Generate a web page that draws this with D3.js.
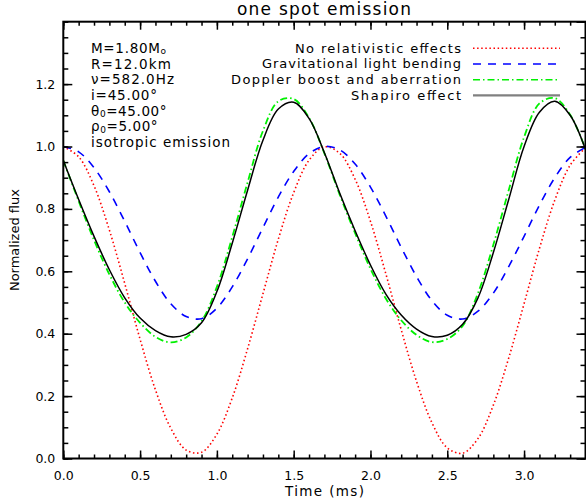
<!DOCTYPE html>
<html>
<head>
<meta charset="utf-8">
<script src="https://cdn.jsdelivr.net/npm/d3@7"></script>
<style>
body{margin:0;background:#fff;}
text{font-family:"DejaVu Sans",sans-serif;fill:#000;}
</style>
</head>
<body>
<svg id="chart" width="586" height="502"></svg>
<script>
// time grid (ms) and the four light curves
var time = [0,0.1,0.2,0.3,0.4,0.5,0.6,0.7,0.8,0.9,1.0,1.1,1.2,1.3,1.4,1.5,1.6,1.7,1.8,1.9,2.0,2.1,2.2,2.3,2.4,2.5,2.6,2.7,2.8,2.9,3.0,3.1,3.2,3.3,3.4];
var noRel = [1.000,0.967,0.874,0.732,0.561,0.382,0.220,0.097,0.027,0.020,0.078,0.194,0.352,0.528,0.703,0.852,0.956,0.999,0.978,0.895,0.760,0.592,0.413,0.247,0.115,0.034,0.017,0.064,0.171,0.322,0.496,0.673,0.828,0.940,0.996];
var lightBend = [1.000,0.983,0.932,0.855,0.760,0.660,0.568,0.496,0.455,0.448,0.482,0.550,0.640,0.740,0.838,0.920,0.977,1.000,0.989,0.944,0.870,0.777,0.677,0.583,0.506,0.459,0.447,0.472,0.530,0.615,0.712,0.812,0.900,0.965,0.997];
var doppler = [0.955,0.825,0.700,0.590,0.500,0.435,0.390,0.372,0.388,0.440,0.550,0.710,0.885,1.050,1.145,1.152,1.092,0.978,0.845,0.722,0.608,0.513,0.443,0.396,0.373,0.383,0.425,0.530,0.685,0.860,1.030,1.138,1.155,1.102,0.992];
var shapiro = [0.955,0.830,0.712,0.605,0.515,0.450,0.410,0.390,0.398,0.435,0.535,0.690,0.860,1.020,1.120,1.142,1.090,0.980,0.850,0.730,0.620,0.527,0.460,0.415,0.391,0.395,0.430,0.515,0.660,0.830,1.000,1.110,1.145,1.100,0.990];

var seriesNames = ["No relativistic effects","Gravitational light bending","Doppler boost and aberration","Shapiro effect"];
var xTicks = [0,0.5,1.0,1.5,2.0,2.5,3.0];
var yTicks = [0,0.2,0.4,0.6,0.8,1.0,1.2];

var svg = d3.select("#chart"),
    margin = {top: 21.7, left: 63.3, bottom: 43.5, right: 0.5},
    width = 586,
    height = 502;

var x = d3.scaleLinear().domain([0, 3.4]).range([margin.left, width - margin.right]);
var y = d3.scaleLinear().domain([0, 1.4]).range([height - margin.bottom, margin.top]);

var styles = [
    {color: "#ff0000", dash: "1.5,2.6", w: 1.6, legendColor: "#ff0000", lw: 1.6},
    {color: "#0000ff", dash: "8,7", w: 1.6, legendColor: "#0000ff", lw: 1.6},
    {color: "#00f000", dash: "7,3,1.5,3", w: 1.8, legendColor: "#00f000", lw: 1.6},
    {color: "#000000", dash: null, w: 1.5, legendColor: "#808080", lw: 2.2}
];
var curves = [noRel, lightBend, doppler, shapiro];
var legendWidths = [166, 199, 230, 110];

svg.append("clipPath").attr("id", "plotclip")
    .append("rect")
    .attr("x", x(0)).attr("y", y(1.4))
    .attr("width", x(3.4) - x(0)).attr("height", y(0) - y(1.4));

var line = d3.line()
    .x(d => x(d[0]))
    .y(d => y(d[1]))
    .curve(d3.curveCatmullRom.alpha(0.5));

var plot = svg.append("g").attr("clip-path", "url(#plotclip)");
for (var k = 0; k < curves.length; k++) {
    var pts = time.map((t, i) => [t, curves[k][i]]);
    plot.append("path")
        .attr("d", line(pts))
        .attr("fill", "none")
        .attr("stroke", styles[k].color)
        .attr("stroke-width", styles[k].w)
        .attr("stroke-dasharray", styles[k].dash);
}

// axes: major + minor ticks on all four sides, pointing inward
var xMinor = x.ticks(34), yMinor = y.ticks(28);

function styleAxis(g) {
    g.select(".domain").remove();
    g.selectAll("line").attr("stroke", "#000").attr("stroke-width", 1.5);
    g.selectAll("text").style("font-size", "12.5px").style("font-family", "DejaVu Sans");
}

svg.append("g").attr("transform", `translate(0,${y(0)})`)
    .call(d3.axisBottom(x).tickValues(xMinor).tickSize(-4).tickFormat(""))
    .call(styleAxis);
svg.append("g").attr("transform", `translate(0,${y(0)})`)
    .call(d3.axisBottom(x).tickValues(xTicks).tickSize(-8).tickPadding(12.2).tickFormat(d3.format(".1f")))
    .call(styleAxis);
svg.append("g").attr("transform", `translate(0,${y(1.4)})`)
    .call(d3.axisTop(x).tickValues(xMinor).tickSize(-4).tickFormat(""))
    .call(styleAxis);
svg.append("g").attr("transform", `translate(0,${y(1.4)})`)
    .call(d3.axisTop(x).tickValues(xTicks).tickSize(-8).tickFormat(""))
    .call(styleAxis);
svg.append("g").attr("transform", `translate(${x(0)},0)`)
    .call(d3.axisLeft(y).tickValues(yMinor).tickSize(-5).tickFormat(""))
    .call(styleAxis);
svg.append("g").attr("transform", `translate(${x(0)},0)`)
    .call(d3.axisLeft(y).tickValues(yTicks).tickSize(-9).tickPadding(8).tickFormat(d3.format(".1f")))
    .call(styleAxis);
svg.append("g").attr("transform", `translate(${x(3.4)},0)`)
    .call(d3.axisRight(y).tickValues(yMinor).tickSize(-5).tickFormat(""))
    .call(styleAxis);
svg.append("g").attr("transform", `translate(${x(3.4)},0)`)
    .call(d3.axisRight(y).tickValues(yTicks.concat([1.4])).tickSize(-9).tickFormat(""))
    .call(styleAxis);

svg.append("rect")
    .attr("x", x(0)).attr("y", y(1.4))
    .attr("width", x(3.4) - x(0)).attr("height", y(0) - y(1.4))
    .attr("fill", "none").attr("stroke", "#000").attr("stroke-width", 2);

// titles
svg.append("text").attr("x", 237).attr("y", 15)
    .attr("textLength", 174).attr("lengthAdjust", "spacing")
    .style("font-size", "17px")
    .text("one spot emission");
svg.append("text").attr("x", 285).attr("y", 496)
    .attr("textLength", 79).attr("lengthAdjust", "spacing")
    .style("font-size", "13.5px")
    .text("Time (ms)");
svg.append("text")
    .attr("transform", `translate(19,${(y(0) + y(1.4)) / 2}) rotate(-90)`)
    .attr("text-anchor", "middle").style("font-size", "13px")
    .text("Normalized flux");

// parameter block
var info = svg.append("g").style("font-size", "13.5px");
var infoY = 53.3, infoStep = 15.56;
var t0 = info.append("text").attr("x", 91).attr("y", infoY).style("letter-spacing", "0.7px");
t0.append("tspan").text("M=1.80M");
t0.append("tspan").attr("dy", 1).style("font-size", "9px").text("o");
info.append("text").attr("x", 91).attr("y", infoY + infoStep)
    .attr("textLength", 80).attr("lengthAdjust", "spacing").text("R=12.0km");
info.append("text").attr("x", 91).attr("y", infoY + 2 * infoStep)
    .attr("textLength", 83).attr("lengthAdjust", "spacing").text("\u03bd=582.0Hz");
info.append("text").attr("x", 91).attr("y", infoY + 3 * infoStep)
    .attr("textLength", 66).attr("lengthAdjust", "spacing").text("i=45.00\u00b0");
var t4 = info.append("text").attr("x", 91).attr("y", infoY + 4 * infoStep).style("letter-spacing", "0.6px");
t4.append("tspan").text("\u03b8");
t4.append("tspan").attr("dy", 1.5).style("font-size", "9px").text("0");
t4.append("tspan").attr("dy", -1.5).text("=45.00\u00b0");
var t5 = info.append("text").attr("x", 91).attr("y", infoY + 5 * infoStep).style("letter-spacing", "0.6px");
t5.append("tspan").text("\u03c1");
t5.append("tspan").attr("dy", 1.5).style("font-size", "9px").text("0");
t5.append("tspan").attr("dy", -1.5).text("=5.00\u00b0");
info.append("text").attr("x", 91).attr("y", infoY + 6 * infoStep + 0.5)
    .attr("textLength", 139).attr("lengthAdjust", "spacing").text("isotropic emission");

// legend
var posY = 48.3;
for (var k = 0; k < seriesNames.length; k++) {
    svg.append("line")
        .attr("x1", 473).attr("x2", 560).attr("y1", posY).attr("y2", posY)
        .attr("stroke", styles[k].legendColor)
        .attr("stroke-width", styles[k].lw)
        .attr("stroke-dasharray", styles[k].dash);
    svg.append("text").attr("x", 461 - legendWidths[k]).attr("y", posY + 4.4)
        .attr("textLength", legendWidths[k]).attr("lengthAdjust", "spacing")
        .style("font-size", "13px")
        .text(seriesNames[k]);
    posY += 15.7;
}
</script>
</body>
</html>
